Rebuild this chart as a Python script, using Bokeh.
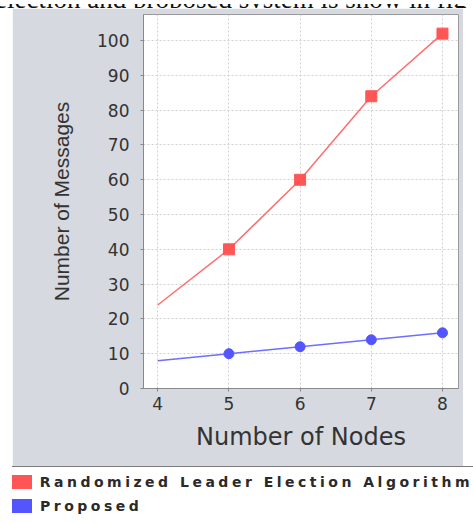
from bokeh.plotting import figure
from bokeh.models import Range1d, FixedTicker, Div
from bokeh.layouts import column
from bokeh.embed import file_html
from bokeh.resources import INLINE

# ---- data ----
nodes = [4, 5, 6, 7, 8]
randomized = [24, 40, 60, 84, 102]
proposed = [8, 10, 12, 14, 16]
x_ticks = [4, 5, 6, 7, 8]
y_ticks = [0, 10, 20, 30, 40, 50, 60, 70, 80, 90, 100]
series_names = ["Randomized Leader Election Algorithm", "Proposed"]
caption = "election and proposed system is show in fig"

RED = "#FF5555"
BLUE = "#5555FF"
PANEL = "#D6D9DF"

p = figure(width=451, height=458, output_backend="svg", toolbar_location=None,
           x_range=Range1d(3.8, 8.225), y_range=Range1d(0, 107.5),
           min_border_left=131, min_border_right=5, min_border_top=6,
           min_border_bottom=78, margin=(0, 0, 0, 12))
p.border_fill_color = PANEL
p.background_fill_color = "white"
p.outline_line_color = "#9a9a9a"

p.xaxis.ticker = FixedTicker(ticks=x_ticks)
p.yaxis.ticker = FixedTicker(ticks=y_ticks)
for ax in (p.xaxis[0], p.yaxis[0]):
    ax.axis_line_color = "#888888"
    ax.major_tick_line_color = "#888888"
    ax.major_tick_out = 3
    ax.major_tick_in = 0
    ax.minor_tick_line_color = None
    ax.major_label_text_font = "DejaVu Sans"
    ax.major_label_text_font_size = "17px"
    ax.major_label_text_color = "#333333"
    ax.axis_label_text_font_style = "normal"
    ax.axis_label_text_color = "#333333"

p.xaxis.major_label_standoff = 5
p.yaxis.major_label_standoff = 11
p.xaxis.axis_label = "Number of Nodes"
p.xaxis.axis_label_text_font = "DejaVu Sans"
p.xaxis.axis_label_text_font_size = "24px"
p.xaxis.axis_label_standoff = 10
p.yaxis.axis_label = "Number of Messages"
p.yaxis.axis_label_text_font = "Liberation Sans"
p.yaxis.axis_label_text_font_size = "21px"
p.yaxis.axis_label_standoff = 21

for g in (p.xgrid[0], p.ygrid[0]):
    g.grid_line_color = "#d0d0d0"
    g.grid_line_dash = "2 2"
    g.grid_line_width = 1

p.line(nodes, randomized, line_color=RED, line_width=1.5, line_alpha=0.85)
p.line(nodes, proposed, line_color=BLUE, line_width=1.5, line_alpha=0.85)
p.scatter(nodes[1:], randomized[1:], marker="square", size=11,
          fill_color=RED, line_color=RED)
p.scatter(nodes[1:], proposed[1:], marker="circle", size=10,
          fill_color=BLUE, line_color=BLUE)

top_html = (
    "<div style=\"position:relative;height:8px;overflow:hidden;width:473px;\">"
    "<div style=\"position:absolute;left:-5px;top:-19px;white-space:nowrap;"
    "font-family:'Liberation Serif';font-size:27px;line-height:28px;color:#111;\">"
    f"{caption}</div></div>"
)
top = Div(text=top_html, width=473, height=8, margin=(0, 0, 0, 0),
          styles={"overflow": "hidden"})

row_style = "display:flex;align-items:center;height:14px;white-space:nowrap;"
sq = "display:inline-block;width:20px;height:14px;margin-right:8px;background:{};"
legend_html = (
    "<div style=\"border-top:1px solid #7a7a7a;padding-top:8px;"
    "font-family:'DejaVu Sans';font-weight:bold;font-size:14px;"
    "letter-spacing:3.5px;color:#2a2a2a;background:white;width:461px;\">"
    f"<div style=\"{row_style}margin-bottom:10px;\"><span style=\"{sq.format(RED)}\"></span>{series_names[0]}</div>"
    f"<div style=\"{row_style}\"><span style=\"{sq.format(BLUE)}\"></span>{series_names[1]}</div>"
    "</div>"
)
legend = Div(text=legend_html, width=461, height=57, margin=(0, 0, 0, 12))

layout = column(top, p, legend, spacing=0)
open("out.html", "w").write(file_html(layout, INLINE))
